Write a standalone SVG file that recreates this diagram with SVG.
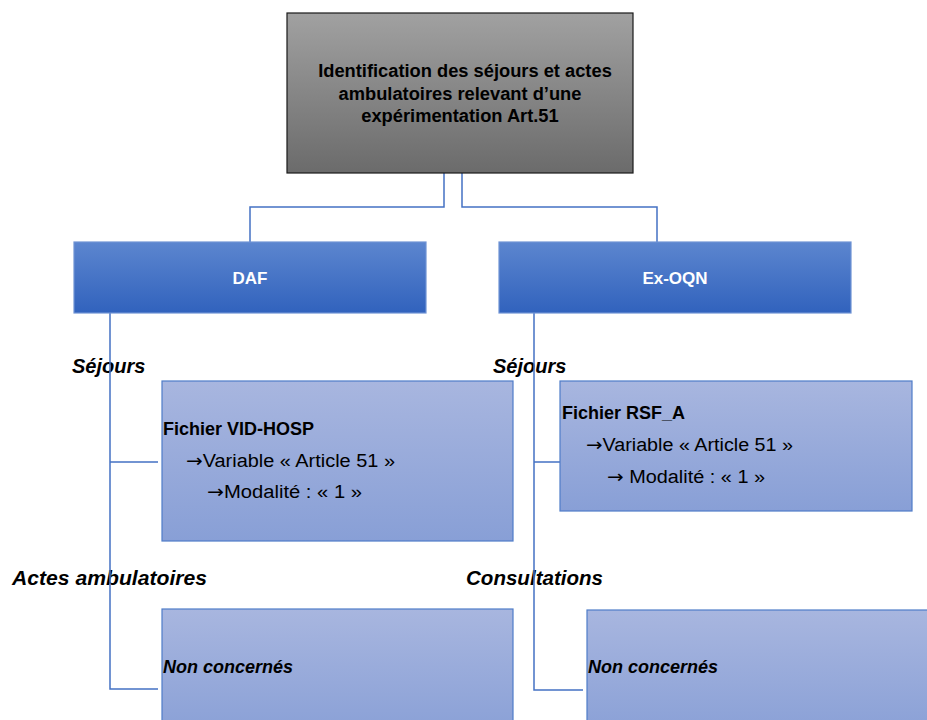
<svg xmlns="http://www.w3.org/2000/svg" width="927" height="720" viewBox="0 0 927 720">
<defs>
<linearGradient id="gGray" x1="0" y1="0" x2="0" y2="1"><stop offset="0" stop-color="#a1a1a1"/><stop offset="1" stop-color="#6b6b6b"/></linearGradient>
<linearGradient id="gBlue" x1="0" y1="0" x2="0" y2="1"><stop offset="0" stop-color="#5c86cf"/><stop offset="1" stop-color="#3162bd"/></linearGradient>
<linearGradient id="gLight" x1="0" y1="0" x2="0" y2="1"><stop offset="0" stop-color="#a8b6df"/><stop offset="1" stop-color="#889fd6"/></linearGradient>
<style>
.t{font-family:"Liberation Sans",Arial,sans-serif;fill:#000}
.b{font-weight:bold}
.i{font-style:italic}
.w{fill:#fff}
.ar{font-family:"DejaVu Sans",sans-serif}
.lab{font-family:"Liberation Sans",Arial,sans-serif;font-weight:bold;font-style:italic;font-size:20px;fill:#000}
.hdr{stroke:#6f93d4;stroke-width:1.2}
.lt{stroke:#4f7cc8;stroke-width:1.2}
.conn{fill:none;stroke:#4472c4;stroke-width:1.5}
</style>
</defs>

<g id="labels">
<text class="lab" x="72" y="373">Séjours</text>
<text class="lab" x="493" y="373">Séjours</text>
<text class="lab" x="12" y="585" textLength="195" lengthAdjust="spacingAndGlyphs">Actes ambulatoires</text>
<text class="lab" x="466" y="585" textLength="137" lengthAdjust="spacingAndGlyphs">Consultations</text>
</g>

<g id="connectors">
<path class="conn" d="M444 173 V207 H250 V242"/>
<path class="conn" d="M462 173 V207 H657 V242"/>
<path class="conn" d="M110 313 V689 H158 M110 462 H158"/>
<path class="conn" d="M534 313 V690 H583 M534 462 H560"/>
</g>

<g id="root">
<rect x="287" y="13" width="346" height="160" fill="url(#gGray)" stroke="#1a1a1a" stroke-width="1.2"/>
<text class="t b" font-size="18.3" text-anchor="middle" x="465" y="77">Identification des séjours et actes</text>
<text class="t b" font-size="18.3" text-anchor="middle" x="460" y="100">ambulatoires relevant d’une</text>
<text class="t b" font-size="18.3" text-anchor="middle" x="460" y="122">expérimentation Art.51</text>
</g>

<g id="daf">
<rect class="hdr" x="74" y="242" width="352" height="71" fill="url(#gBlue)"/>
<text class="t b w" font-size="17" text-anchor="middle" x="250" y="284">DAF</text>
</g>

<g id="exoqn">
<rect class="hdr" x="499" y="242" width="352" height="71" fill="url(#gBlue)"/>
<text class="t b w" font-size="17" text-anchor="middle" x="675" y="284">Ex-OQN</text>
</g>

<g id="daf-sejours">
<rect class="lt" x="162" y="381" width="351" height="160" fill="url(#gLight)"/>
<text class="t b" font-size="18" x="163" y="435">Fichier VID-HOSP</text>
<text class="t" font-size="18" x="186" y="467" textLength="209" lengthAdjust="spacingAndGlyphs"><tspan class="ar">→</tspan>Variable « Article 51 »</text>
<text class="t" font-size="18" x="207" y="498" textLength="155" lengthAdjust="spacingAndGlyphs"><tspan class="ar">→</tspan>Modalité : « 1 »</text>
</g>

<g id="exoqn-sejours">
<rect class="lt" x="560" y="381" width="352" height="130" fill="url(#gLight)"/>
<text class="t b" font-size="18" x="562" y="419">Fichier RSF_A</text>
<text class="t" font-size="18" x="586" y="451" textLength="207" lengthAdjust="spacingAndGlyphs"><tspan class="ar">→</tspan>Variable « Article 51 »</text>
<text class="t" font-size="18" x="607" y="483" textLength="158" lengthAdjust="spacingAndGlyphs"><tspan class="ar">→</tspan> Modalité : « 1 »</text>
</g>

<g id="daf-actes">
<rect class="lt" x="162" y="609" width="351" height="130" fill="url(#gLight)"/>
<text class="t b i" font-size="18" x="163" y="673">Non concernés</text>
</g>

<g id="exoqn-consult">
<rect class="lt" x="587" y="610" width="360" height="130" fill="url(#gLight)"/>
<text class="t b i" font-size="18" x="588" y="673">Non concernés</text>
</g>
</svg>
